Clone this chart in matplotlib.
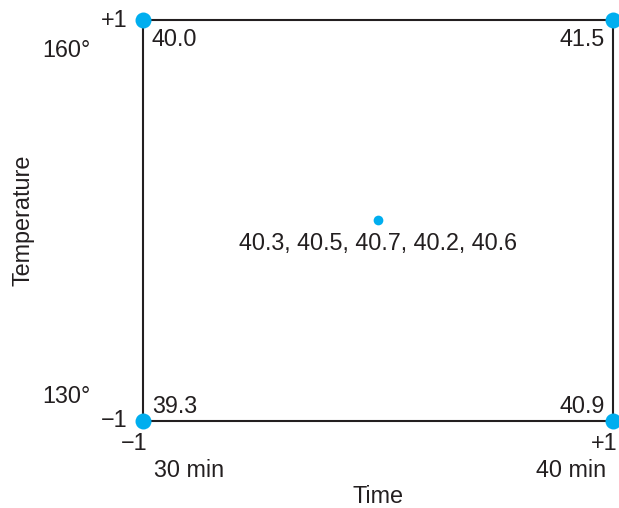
import matplotlib
matplotlib.use('Agg')
import matplotlib.pyplot as plt

plt.rcParams['font.family'] = ['Liberation Sans', 'DejaVu Sans']

# 2^2 factorial design with center points
time_coded = [-1, 1, -1, 1]
temp_coded = [-1, -1, 1, 1]
corner_yield = [39.3, 40.9, 40.0, 41.5]
center_point = (0, 0)
center_runs = [40.3, 40.5, 40.7, 40.2, 40.6]
time_natural = ['30 min', '40 min']
temp_natural = ['130°', '160°']

LINE = '#231f20'
BLUE = '#00aeef'
FS = 16.8

W, H = 619, 508
fig = plt.figure(figsize=(W / 100, H / 100), dpi=100)
ax = fig.add_axes([143 / W, 1 - 421 / H, 470 / W, 401 / H])
ax.set_xlim(-1, 1)
ax.set_ylim(-1, 1)
ax.set_xticks([])
ax.set_yticks([])
for sp in ax.spines.values():
    sp.set_color(LINE)
    sp.set_linewidth(1.5)

# design points
ax.plot(time_coded, temp_coded, 'o', color=BLUE, markersize=11.5,
        markeredgewidth=0, clip_on=False, zorder=5)
ax.plot([center_point[0]], [center_point[1]], 'o', color=BLUE, markersize=7,
        markeredgewidth=0, clip_on=False, zorder=5)


def label(x, y, s, dx, dy, ha):
    ax.annotate(s, (x, y), xytext=(dx, dy), textcoords='offset pixels',
                ha=ha, va='baseline', fontsize=FS, color=LINE,
                annotation_clip=False)


# responses at the corners
for x, y, v in zip(time_coded, temp_coded, corner_yield):
    dx = 9 if x < 0 else -8
    dy = -26 if y > 0 else 8
    label(x, y, f'{v:.1f}', dx, dy, 'left' if x < 0 else 'right')

# center point runs
label(center_point[0], center_point[1],
      ', '.join(f'{v:.1f}' for v in center_runs), 0, -30, 'center')

# coded levels
label(-1, 1, '+1', -16, -7, 'right')
label(-1, -1, '\u22121', -16, -6, 'right')
label(-1, -1, '\u22121', 4, -29, 'right')
label(1, -1, '+1', 4, -29, 'right')

# natural levels
label(-1, -1, time_natural[0], 11, -56, 'left')
label(1, -1, time_natural[1], -7, -56, 'right')
label(-1, 1, temp_natural[1], -53, -37, 'right')
label(-1, -1, temp_natural[0], -52, 18, 'right')

# axis titles
ax.text(0.5, -0.2045, 'Time', transform=ax.transAxes, ha='center',
        va='baseline', fontsize=FS, color=LINE)
ax.text(-0.2415, 0.5, 'Temperature', transform=ax.transAxes, ha='center',
        va='baseline', rotation=90, rotation_mode='anchor', fontsize=FS,
        color=LINE)

fig.savefig('out.png', dpi=100, facecolor='white')
